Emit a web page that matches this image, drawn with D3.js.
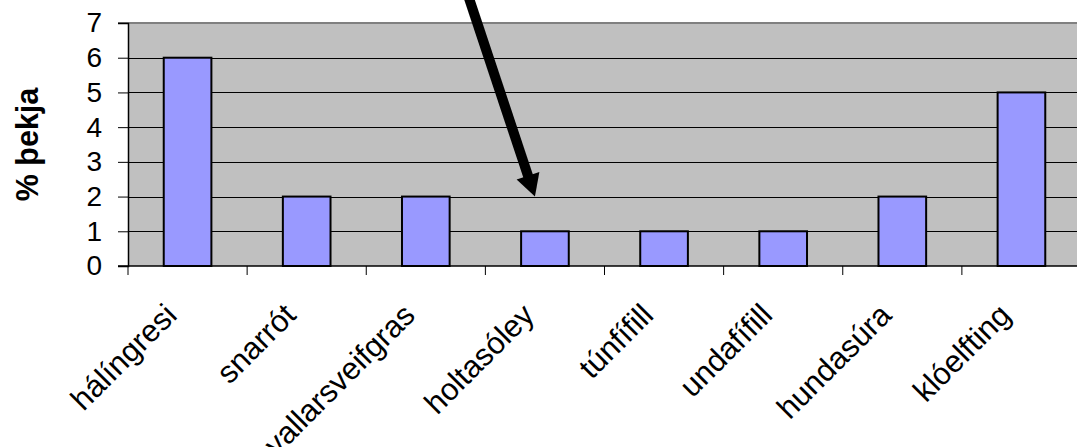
<!DOCTYPE html>
<html>
<head>
<meta charset="utf-8">
<script src="https://cdn.jsdelivr.net/npm/d3@7"></script>
<style>
  html, body { margin: 0; padding: 0; background: #ffffff; }
  svg { display: block; font-family: "Liberation Sans", Arial, sans-serif; }
</style>
</head>
<body>
<svg id="chart" width="1077" height="447"></svg>
<script>
// Plant species and their cover (% þekja)
const categories = ["hálíngresi", "snarrót", "vallarsveifgras", "holtasóley", "túnfífill", "undafífill", "hundasúra", "klóelfting"];
const values = [6, 2, 2, 1, 1, 1, 2, 5];
const yTicks = [0, 1, 2, 3, 4, 5, 6, 7];
const yTitle = "% þekja";
// Arrow pointing at the holtasóley bar
const arrowTarget = { category: "holtasóley", value: 2 };

const svg = d3.select("#chart");
const plot = { left: 128, top: 23, bottom: 266, right: 1081 };

const x = d3.scaleBand()
  .domain(categories)
  .range([plot.left, plot.right])
  .paddingInner(0.6)
  .paddingOuter(0.3);

const y = d3.scaleLinear()
  .domain([0, 7])
  .range([plot.bottom, plot.top]);

// plot area background
svg.append("rect")
  .attr("x", plot.left).attr("y", plot.top)
  .attr("width", plot.right - plot.left)
  .attr("height", plot.bottom - plot.top)
  .attr("fill", "#c0c0c0");

// horizontal gridlines
svg.append("g")
  .selectAll("line")
  .data(yTicks.filter(d => d > 0 && d < 7))
  .join("line")
  .attr("x1", plot.left).attr("x2", plot.right)
  .attr("y1", d => Math.round(y(d)) + 0.5).attr("y2", d => Math.round(y(d)) + 0.5)
  .attr("stroke", "#000").attr("stroke-width", 1);

// top border of plot area
svg.append("line")
  .attr("x1", plot.left - 10).attr("x2", plot.right)
  .attr("y1", plot.top).attr("y2", plot.top)
  .attr("stroke", "#808080").attr("stroke-width", 2);

// bars
svg.append("g")
  .selectAll("rect")
  .data(values)
  .join("rect")
  .attr("x", (d, i) => x(categories[i]))
  .attr("y", d => y(d))
  .attr("width", x.bandwidth())
  .attr("height", d => y(0) - y(d))
  .attr("fill", "#9999ff")
  .attr("stroke", "#000")
  .attr("stroke-width", 2);

// y axis
const yAxis = d3.axisLeft(y).tickValues(yTicks).tickSize(10).tickPadding(16).tickFormat(d3.format("d"));
const gy = svg.append("g")
  .attr("transform", `translate(${plot.left},0)`)
  .call(yAxis);
gy.select(".domain").attr("stroke", "#000").attr("stroke-width", 1.5);
gy.selectAll(".tick line").attr("stroke", "#000");
gy.selectAll(".tick text")
  .attr("font-size", 28)
  .attr("fill", "#000")
  .attr("font-family", "Liberation Sans, Arial, sans-serif");

// x axis line and tick marks at category boundaries
svg.append("line")
  .attr("x1", plot.left - 10).attr("x2", plot.right)
  .attr("y1", plot.bottom).attr("y2", plot.bottom)
  .attr("stroke", "#000").attr("stroke-width", 1.5);

const step = x.step();
svg.append("g")
  .selectAll("line")
  .data(d3.range(categories.length + 1))
  .join("line")
  .attr("x1", i => plot.left + i * step).attr("x2", i => plot.left + i * step)
  .attr("y1", plot.bottom).attr("y2", plot.bottom + 9)
  .attr("stroke", "#000").attr("stroke-width", 1);

// rotated category labels
svg.append("g")
  .selectAll("text")
  .data(categories)
  .join("text")
  .attr("transform", d => `translate(${x(d) + x.bandwidth() / 2 - 9},${plot.bottom + 51}) rotate(-45)`)
  .attr("text-anchor", "end")
  .attr("font-size", 31)
  .attr("fill", "#000")
  .text(d => d);

// y axis title
svg.append("text")
  .attr("transform", `translate(${38},${(plot.top + plot.bottom) / 2}) rotate(-90)`)
  .attr("text-anchor", "middle")
  .attr("font-size", 30.5)
  .attr("font-weight", "bold")
  .attr("fill", "#000")
  .text(yTitle);

// annotation arrow
const tipX = x(arrowTarget.category) + x.bandwidth() / 2 - 10;
const tipY = y(arrowTarget.value);
const startX = tipX - 72, startY = -20;
const dx = tipX - startX, dy = tipY - startY;
const len = Math.hypot(dx, dy);
const ux = dx / len, uy = dy / len;
const nx = -uy, ny = ux;
const headLen = 22, headHalf = 12;
const baseX = tipX - ux * headLen, baseY = tipY - uy * headLen;

svg.append("line")
  .attr("x1", startX).attr("y1", startY)
  .attr("x2", baseX + ux * 2).attr("y2", baseY + uy * 2)
  .attr("stroke", "#000").attr("stroke-width", 10);

svg.append("path")
  .attr("d", d3.line()([
    [tipX, tipY],
    [baseX + nx * headHalf, baseY + ny * headHalf],
    [baseX - nx * headHalf, baseY - ny * headHalf]
  ]) + "Z")
  .attr("fill", "#000");
</script>
</body>
</html>
